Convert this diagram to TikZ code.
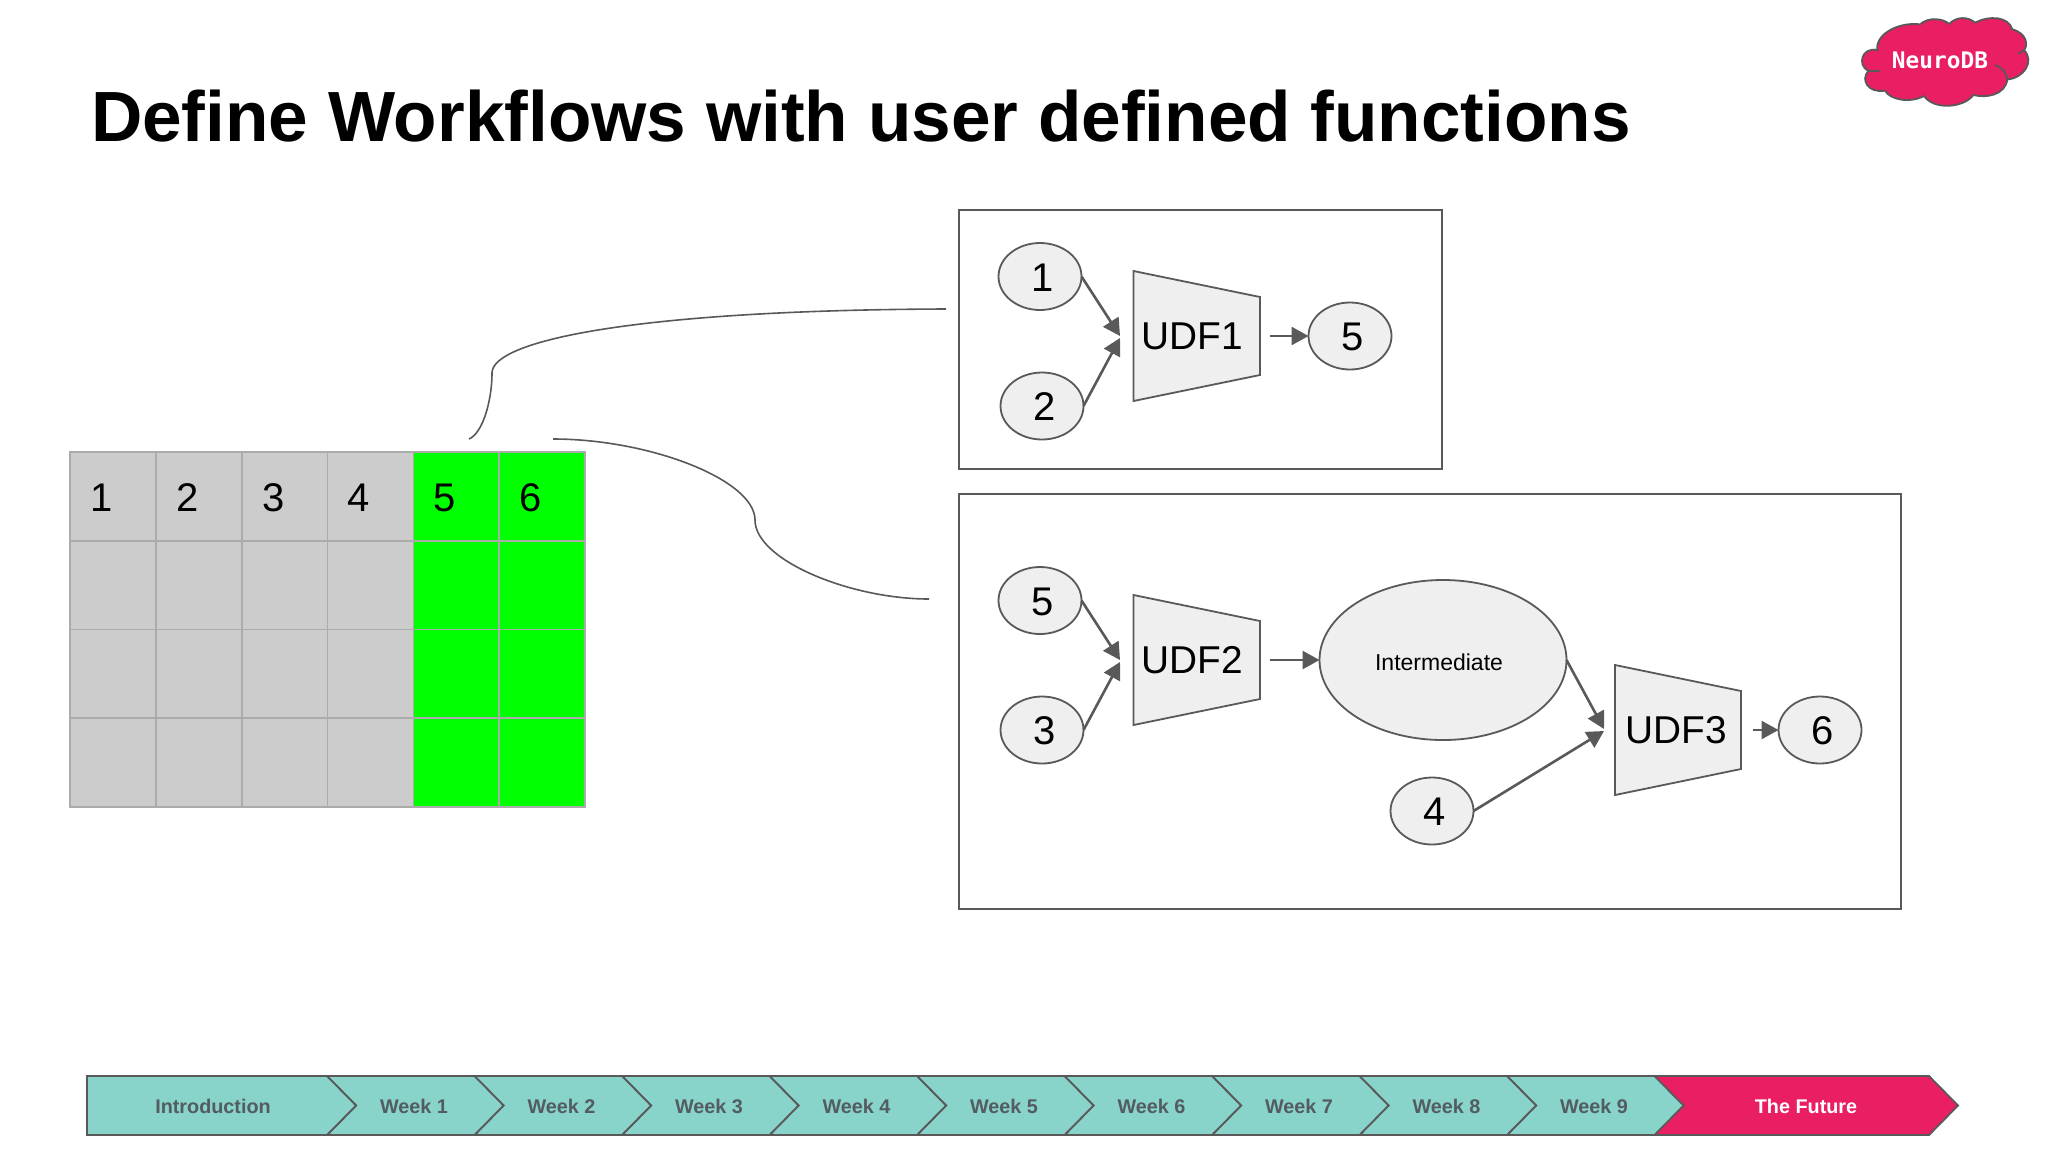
\documentclass[tikz,border=0pt]{standalone}
\usepackage{fontspec}
\setmainfont{Liberation Sans}
\newfontfamily\monofam{DejaVu Sans Mono}
\usetikzlibrary{shapes.geometric,arrows.meta}
\definecolor{linegrey}{HTML}{595959}
\definecolor{shapefill}{HTML}{EFEFEF}
\definecolor{cellgrey}{HTML}{CCCCCC}
\definecolor{cellline}{HTML}{ABABAB}
\definecolor{teal}{HTML}{88D3CA}
\definecolor{rose}{HTML}{E91E63}
\definecolor{chevtext}{HTML}{535C60}
\tikzset{
  every node/.style={inner sep=0pt,outer sep=0pt},
  frame/.style={draw=linegrey,line width=1pt,fill=white},
  blob/.style={ellipse,draw=linegrey,line width=.9pt,fill=shapefill,minimum width=41.5pt,minimum height=33.5pt,text=black,font=\fontsize{20}{24}\selectfont,execute at begin node={\hspace*{2.5pt}\rule{0pt}{14.9pt}}},
  bigblob/.style={ellipse,draw=linegrey,line width=.9pt,fill=shapefill,minimum width=123.5pt,minimum height=80pt,text=black,font=\fontsize{11.5}{14}\selectfont},
  funnel/.style={draw=linegrey,line width=.9pt,fill=shapefill},
  udftext/.style={text=black,font=\fontsize{19.4}{23}\selectfont},
  arr/.style={draw=linegrey,line width=1.3pt,-{Triangle[length=8.5pt,width=9pt]},fill=linegrey},
  cell/.style={draw=cellline,line width=.8pt},
  celltext/.style={text=black,font=\fontsize{20}{24}\selectfont},
  curveline/.style={draw=linegrey,line width=.8pt},
  chev/.style={draw=linegrey,line width=.9pt},
  chevlabel/.style={text=chevtext,font=\fontsize{9.9}{12}\selectfont\bfseries},
}
\begin{document}
\begin{tikzpicture}[x=.5pt,y=-.5pt]
\useasboundingbox (0,0) rectangle (2048,1152);
\fill[white] (0,0) rectangle (2048,1152);

% title
\node[anchor=base west,text=black,font=\fontsize{35.56}{42}\selectfont\bfseries] (title) at (91,141) {Define Workflows with user defined functions};

% logo
\begin{scope}[shift={(1800,0)},x=.1667pt,y=-.1667pt]
\filldraw[fill=rose,draw=linegrey,line width=.9pt]
 (232,150) .. controls (225,100) and (300,65) .. (360,73)
 .. controls (385,50) and (430,55) .. (447,72)
 .. controls (470,48) and (505,50) .. (525,68)
 .. controls (570,45) and (625,50) .. (637,88)
 .. controls (680,100) and (685,135) .. (672,150)
 .. controls (705,185) and (670,235) .. (622,238)
 .. controls (615,285) and (560,295) .. (520,285)
 .. controls (490,325) and (400,330) .. (372,288)
 .. controls (330,310) and (270,300) .. (255,272)
 .. controls (205,280) and (180,240) .. (205,213)
 .. controls (170,195) and (185,140) .. cycle;
\draw[draw=linegrey,line width=.9pt] (205,213) -- (240,213);
\draw[draw=linegrey,line width=.9pt] (585,195) .. controls (605,200) and (620,220) .. (622,238);
\draw[draw=linegrey,line width=.9pt] (655,162) -- (672,150);
\end{scope}
\node[text=white,font=\monofam\fontsize{11.4}{14}\selectfont\bfseries] (logo) at (1940,60) {NeuroDB};

% grid
\foreach \c/\xa/\fillc in {1/70/cellgrey,2/155.8/cellgrey,3/241.7/cellgrey,4/327.5/cellgrey,5/413.3/green,6/499.2/green}{
  \foreach \r/\ya in {1/452,2/540.75,3/629.5,4/718.25}{
    \draw[cell,fill=\fillc] (\xa,\ya) rectangle ++(85.83,88.75);
  }
}
\foreach \c/\xc in {1/101.5,2/188,3/273.5,4/359,5/445,6/530.5}{
  \node[celltext] (cell\c) at (\xc,498) {\c};
}

% boxes
\draw[frame] (958.5,210) rectangle (1442,469);
\draw[frame] (958.5,494) rectangle (1901,909);

% curves
\coordinate (c1a) at (469,439);
\coordinate (c1b) at (946,309);
\coordinate (c2a) at (553,439);
\coordinate (c2b) at (929,599);
\draw[curveline] (c1a) .. controls (483,433) and (492,400) .. (492,373) .. controls (492,340) and (640,310) .. (c1b);
\draw[curveline] (c2a) .. controls (650,439) and (755,480) .. (755,520) .. controls (755,560) and (850,599) .. (c2b);

% UDF1
\node[blob] (a1) at (1040,276.5) {1};
\node[blob] (a2) at (1042,406) {2};
\node[blob] (a5) at (1350,336) {5};
\draw[funnel] (1133.5,271) -- (1260,297) -- (1260,375) -- (1133.5,401) -- cycle;
\node[udftext] (u1) at (1192,336.5) {UDF1};
\coordinate (t1) at (1120,336);
\coordinate (t1b) at (1120,338);
\coordinate (o1) at (1270,336);
\draw[arr] (a1.east) -- (t1);
\draw[arr] (a2.east) -- (t1b);
\draw[arr] (o1) -- (a5.west);

% UDF2 / UDF3
\node[blob] (b5) at (1040,600.5) {5};
\node[blob] (b3) at (1042,730) {3};
\draw[funnel] (1133.5,595) -- (1260,621) -- (1260,699) -- (1133.5,725) -- cycle;
\node[udftext] (u2) at (1192,660.5) {UDF2};
\coordinate (t2) at (1120,660);
\coordinate (t2b) at (1120,662);
\coordinate (o2) at (1270,660);
\draw[arr] (b5.east) -- (t2);
\draw[arr] (b3.east) -- (t2b);
\node[bigblob] (im) at (1443,660) {Intermediate\hspace*{4pt}\rule{0pt}{11pt}};
\draw[arr] (o2) -- (im.west);
\draw[funnel] (1615,665) -- (1741,691) -- (1741,769) -- (1615,795) -- cycle;
\node[udftext] (u3) at (1676,730.5) {UDF3};
\node[blob] (b4) at (1432,811) {4};
\node[blob] (b6) at (1820,730) {6};
\coordinate (t3) at (1604,729);
\coordinate (t3b) at (1604,731);
\coordinate (o3) at (1753,730);
\draw[arr] (im.east) -- (t3);
\draw[arr] (b4.east) -- (t3b);
\draw[arr] (o3) -- (b6.west);

% timeline
\draw[chev,fill=rose] (1654,1076) -- (1929,1076) -- (1958,1105.5) -- (1929,1135) -- (1654,1135) -- (1683,1105.5) -- cycle;
\foreach \k/\tip in {9/1683.5,8/1536,7/1388.5,6/1241,5/1093.5,4/946,3/798.5,2/651,1/503.5}{
  \pgfmathsetmacro{\st}{\tip-29}
  \pgfmathsetmacro{\pv}{\tip-147.5-29}
  \pgfmathsetmacro{\pt}{\tip-147.5}
  \draw[chev,fill=teal] (\pv,1076) -- (\st,1076) -- (\tip,1105.5) -- (\st,1135) -- (\pv,1135) -- (\pt,1105.5) -- cycle;
  \pgfmathsetmacro{\lx}{\tip-89.5}
  \node[chevlabel] (w\k) at (\lx,1106) {Week \k};
}
\draw[chev,fill=teal] (87,1076) -- (327,1076) -- (356,1105.5) -- (327,1135) -- (87,1135) -- cycle;
\node[chevlabel] (intro) at (213,1106) {Introduction};
\node[chevlabel,text=white] (future) at (1806,1106) {The Future};
\end{tikzpicture}
\end{document}
